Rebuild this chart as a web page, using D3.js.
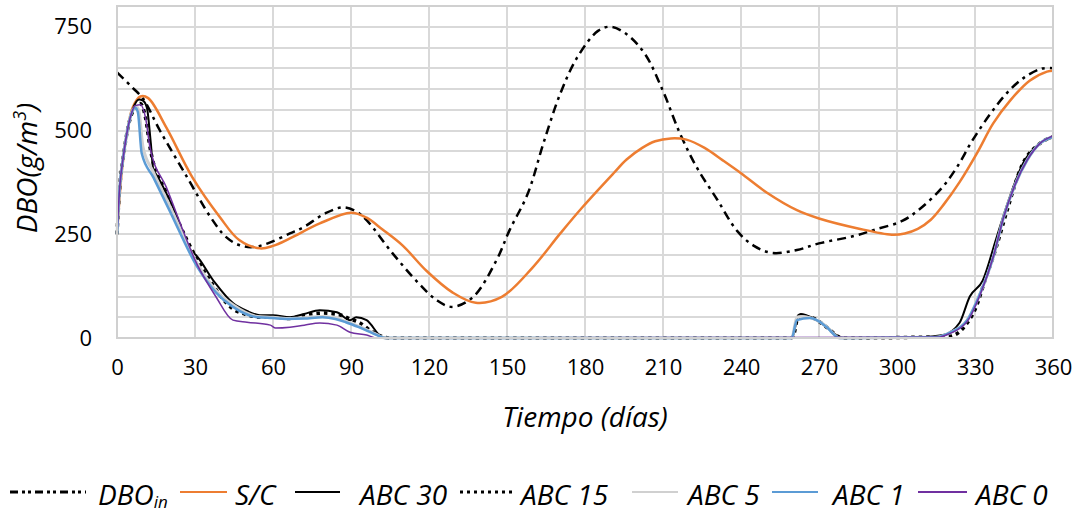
<!DOCTYPE html>
<html lang="es">
<head>
<meta charset="UTF-8">
<title>DBO</title>
<script src="https://d3js.org/d3.v7.min.js"></script>
<style>
body,html{
	margin: 0;
	padding: 0;
	background: #fff;
}
text{
	font-family: "Open Sans", sans-serif;
	fill: #000;
}
.tick-label{
	font-size: 22px;
}
.axis-title{
	font-size: 28px;
	font-style: italic;
}
.legend-label{
	font-size: 28px;
	font-style: italic;
}
.gridline{
	stroke: #d9d9d9;
	stroke-width: 2px;
	shape-rendering: crispEdges;
}
.series{
	fill: none;
	stroke-linejoin: round;
}
</style>
</head>
<body>
<script>
// valores: [dia, DBO g/m3]
var dboIn = [[0,640],[6,603],[10,577],[16.5,500],[27,387],[36,291],[42,243],[47,224],[52,219],
	[58,228],[66.5,252],[72,268],[80,300],[87,315],[92,305],[96,284],[106,204],[116,132],
	[123,91],[129,75],[137,99],[146,188],[151,260],[158,348],[164,469],[170.5,589],[177,676],
	[185,740],[190,750],[196,732],[203,685],[210,595],[216.5,493],[223,411],[231,332],
	[238.5,258],[245,222],[252,205],[261.5,212],[270,228],[283,245],[292,262],[302,282],
	[309,312],[317,360],[323,411],[329,476],[336,541],[342.5,592],[349,628],[355.5,649],[360,650]];

var sc = [[0,250],[1,340],[2,410],[4,500],[6,555],[9,582],[12,578],[19,507],[29,387],[39.6,291],
	[47,236],[55,216],[60,222],[66.5,240],[78,276],[90,302],[96,290],[102,262],[110,222],
	[119,162],[129,110],[138,85],[148,99],[160,171],[170.5,252],[179,315],[191,397],[196,430],
	[202,458],[207,474],[213,481],[219,478],[226,458],[233,428],[240,397],[250,350],
	[261.5,308],[270,288],[285,264],[298,249],[303,252],[308,263],[313,285],[318,322],
	[324,375],[331,448],[337,517],[343.5,572],[351,620],[357.7,642],[360,644]];

var abc30 = [[0,250],[1,360],[2.5,440],[4,500],[6,550],[8.5,575],[10,572],[11.5,555],[13,470],
	[14,404],[15,395],[21.5,315],[29,207],[30,202],[37,139],[44.6,84],[50,65],[55,55],[60,55],
	[66.5,50],[72,58],[78,67],[84.6,62],[89.6,43],[92,50],[96,43],[102,2],[104,0],[259,0],
	[260,5],[262,55],[263,58],[267.7,48],[273,26],[278,2],[280,0],[300,0],[310,2],[317.7,7],
	[324,36],[328,100],[333,139],[338,236],[342,315],[348.5,421],[355,469],[360,483]];

var abc15 = [[0,250],[1,360],[2.5,440],[4,500],[6,545],[9,565],[11,530],[12.7,459],[19,349],
	[27,235],[34.6,150],[44.6,70],[50,56],[55,50],[60,50],[66.5,47],[72,55],[79,60],[85,57],
	[90,45],[93,38],[98.5,14],[105,0],[259,0],[260,3],[262,50],[264,52],[268,47],[273,26],
	[278,2],[280,0],[300,1],[320,4],[327,36],[331,84],[333,123],[338,215],[342,300],
	[348,415],[355,469],[360,485]];

var abc5 = [[0,250],[1,360],[2.5,440],[4,500],[5.5,542],[7.5,558],[8.5,545],[10,460],[14,400],
	[20,322],[31,178],[38,115],[44.6,80],[54,52],[60,50],[65,47],[72,49],[79,52],[84,48],
	[88,40],[93,28],[100,8],[103,0],[259.5,0],[261.5,50],[263,52],[266.5,49],[270,40],
	[273,27],[278,0],[315,2],[320,12],[327,43],[332,108],[337,195],[341,291],[345,363],
	[350,428],[355,469],[360,485]];

var abc1 = [[0,250],[1,360],[2.5,440],[4,500],[5.5,540],[7,555],[8,545],[9.5,445],[14,387],
	[20,310],[31,170],[38,110],[44.6,75],[54,50],[60,48],[65,46],[72,47],[79,50],[84,46],
	[88,38],[93,26],[100,7],[103,0],[259.5,0],[261.5,43],[266.5,48],[270,40],[273,26],
	[278,0],[315,2],[320,12],[327,43],[332,108],[337,195],[341,291],[345,363],[350,428],
	[355,469],[360,485]];

var abc0 = [[0,250],[1,360],[2.5,440],[4,500],[5.5,540],[7,560],[9,562],[11,530],[12.7,459],
	[19,363],[31,175],[38,100],[44.6,43],[50,38],[59,31],[61,24],[66.5,26],[72,31],[78,36],
	[84.6,31],[89.6,14],[96,7],[100,0],[316,2],[320,10],[327,40],[332,105],[337,195],
	[341,291],[345,363],[350,428],[355,469],[360,487]];

var xTicks = [0,30,60,90,120,150,180,210,240,270,300,330,360];
var yTicks = [0,250,500,750];
var legendNames = ["DBO", "S/C", "ABC 30", "ABC 15", "ABC 5", "ABC 1", "ABC 0"];

var w = 1078, h = 513;
var margin = {top: 6, left: 117, right: 25, bottom: 175};

var svg = d3.select("body").append("svg")
	.attr("width", w)
	.attr("height", h);

var x = d3.scaleLinear().domain([0, 360]).range([margin.left, w - margin.right]);
var y = d3.scaleLinear().domain([0, 800]).range([h - margin.bottom, margin.top]);

// rejilla
var grid = svg.append("g");
grid.selectAll(".hgrid")
	.data(d3.range(0, 801, 50))
	.enter().append("line")
	.attr("class", "gridline")
	.attr("x1", x(0)).attr("x2", x(360))
	.attr("y1", function(d){ return y(d); })
	.attr("y2", function(d){ return y(d); });
grid.selectAll(".vgrid")
	.data(xTicks)
	.enter().append("line")
	.attr("class", "gridline")
	.attr("y1", y(0)).attr("y2", y(800))
	.attr("x1", function(d){ return x(d); })
	.attr("x2", function(d){ return x(d); });

// ejes
var xAxis = d3.axisBottom(x).tickValues(xTicks).tickSize(0).tickPadding(21);
var yAxis = d3.axisLeft(y).tickValues(yTicks).tickSize(0).tickPadding(25);

var gx = svg.append("g")
	.attr("transform", "translate(0," + y(0) + ")")
	.call(xAxis);
var gy = svg.append("g")
	.attr("transform", "translate(" + x(0) + ",0)")
	.call(yAxis);
[gx, gy].forEach(function(g){
	g.select(".domain").remove();
	g.selectAll("text").attr("class", "tick-label").attr("fill", null).style("font-size", null);
	g.attr("font-family", null).attr("font-size", null);
});

svg.append("text")
	.attr("class", "axis-title")
	.attr("text-anchor", "middle")
	.attr("x", x(180))
	.attr("y", 427)
	.text("Tiempo (días)");

var yt = svg.append("text")
	.attr("class", "axis-title")
	.attr("text-anchor", "middle")
	.attr("transform", "translate(37," + 168 + ") rotate(-90)");
yt.append("tspan").text("DBO(g/m");
yt.append("tspan").attr("dy", -11).style("font-size", "18px").text("3");
yt.append("tspan").attr("dy", 11).text(")");

// series
var smooth = d3.line()
	.x(function(d){ return x(d[0]); })
	.y(function(d){ return y(d[1]); })
	.curve(d3.curveCatmullRom.alpha(0.5));
var mono = d3.line()
	.x(function(d){ return x(d[0]); })
	.y(function(d){ return y(d[1]); })
	.curve(d3.curveMonotoneX);

var seriesStyles = [
	{data: dboIn, color: "#000", width: 2.5, dash: "9,5,3,5", line: smooth},
	{data: sc, color: "#ed7d31", width: 2.5, dash: null, line: smooth},
	{data: abc30, color: "#000", width: 2, dash: null, line: mono},
	{data: abc15, color: "#000", width: 3.5, dash: "3.5,4", line: mono},
	{data: abc5, color: "#d0d0d0", width: 3, dash: null, line: mono},
	{data: abc1, color: "#5b9bd5", width: 2.5, dash: null, line: mono},
	{data: abc0, color: "#7030a0", width: 1.5, dash: null, line: mono}
];

svg.selectAll(".series")
	.data(seriesStyles)
	.enter().append("path")
	.attr("class", "series")
	.attr("d", function(d){ return d.line(d.data); })
	.attr("stroke", function(d){ return d.color; })
	.attr("stroke-width", function(d){ return d.width; })
	.attr("stroke-dasharray", function(d){ return d.dash; });

// marco del area de trazado
svg.append("rect")
	.attr("x", x(0)).attr("y", y(800))
	.attr("width", x(360) - x(0))
	.attr("height", y(0) - y(800))
	.attr("fill", "none")
	.attr("stroke", "#d0d0d0")
	.attr("stroke-width", 2)
	.attr("shape-rendering", "crispEdges");

// leyenda
var legendPos = [[10, 86, 98], [180, 227, 235], [295, 340, 360], [460, 513, 521],
	[632, 678, 688], [772, 818, 833], [918, 967, 976]];
var legendDash = ["8,4,3,3,3,4", null, null, "3,4", null, null, null];
var legendWidth = [3, 2, 2, 3, 2, 2, 2];
var legendY = 492;
var legend = svg.append("g");
seriesStyles.forEach(function(s, i){
	var p = legendPos[i];
	legend.append("line")
		.attr("x1", p[0]).attr("x2", p[1])
		.attr("y1", legendY).attr("y2", legendY)
		.attr("stroke", s.color)
		.attr("stroke-width", legendWidth[i])
		.attr("stroke-dasharray", legendDash[i]);
	var t = legend.append("text")
		.attr("class", "legend-label")
		.attr("x", p[2])
		.attr("y", legendY + 13);
	t.append("tspan").text(legendNames[i]);
	if(i == 0){
		t.append("tspan").attr("dy", 3).style("font-size", "17px").text("in");
	}
});
</script>
</body>
</html>
